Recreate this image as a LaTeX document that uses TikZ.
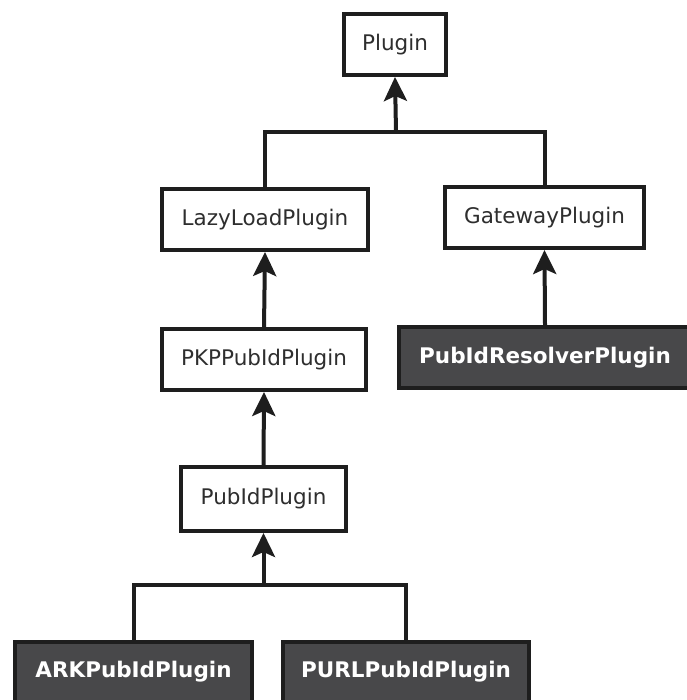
\documentclass[tikz,border=0pt]{standalone}
\usepackage{fontspec}
\setmainfont{DejaVu Sans}
\usetikzlibrary{arrows.meta}
\definecolor{darkbox}{HTML}{48484A}
\definecolor{edge}{HTML}{1E1E1E}
\definecolor{txt}{HTML}{2E2E2E}
\begin{document}
\begin{tikzpicture}[x=1pt,y=-1pt,
  lightbox/.style={draw=edge, line width=4pt, fill=white, inner sep=0pt,
    text=txt, font=\fontsize{21.5}{25}\selectfont},
  darkboxst/.style={draw=edge, line width=4pt, fill=darkbox, inner sep=0pt,
    text=white, font=\bfseries\fontsize{21.5}{25}\selectfont},
  conn/.style={draw=edge, line width=4pt},
  arr/.style={conn, -{Stealth[length=24pt,width=23pt,inset=5pt]}}]
\useasboundingbox (0,0) rectangle (686,700);
\fill[white] (0,0) rectangle (686,700);

\node[lightbox, minimum width=102pt, minimum height=61pt] (plugin) at (395,44.5) {Plugin};
\node[lightbox, minimum width=206pt, minimum height=61pt] (lazy) at (265,219.5) {LazyLoadPlugin};
\node[lightbox, minimum width=199pt, minimum height=61pt] (gate) at (544.5,217.5) {GatewayPlugin};
\node[lightbox, minimum width=204pt, minimum height=61pt] (pkp) at (264,359.5) {PKPPubIdPlugin};
\node[darkboxst, minimum width=292pt, minimum height=61pt] (resolver) at (545,357.5) {PubIdResolverPlugin};
\node[lightbox, minimum width=165pt, minimum height=64pt] (pubid) at (263.5,499) {PubIdPlugin};
\node[darkboxst, minimum width=237pt, minimum height=61pt] (ark) at (133.5,672) {ARKPubIdPlugin};
\node[darkboxst, minimum width=246pt, minimum height=61pt] (purl) at (406,672) {PURLPubIdPlugin};

\coordinate (j1) at (396,132);
\coordinate (j2) at (263.5,585);

\draw[conn] (lazy.north) |- (j1) -| (gate.north);
\draw[arr] (j1) -- (plugin.south);
\draw[arr] (pkp.north) -- (lazy.south);
\draw[arr] (resolver.north) -- (gate.south);
\draw[arr] (pubid.north) -- (pkp.south);
\draw[conn] ([xshift=0.5pt]ark.north) |- (j2) -| (purl.north);
\draw[arr] (j2) -- (pubid.south);
\end{tikzpicture}
\end{document}
